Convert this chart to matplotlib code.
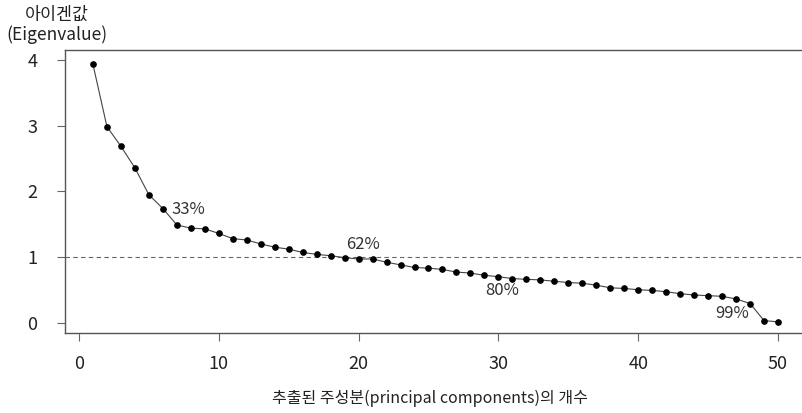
import matplotlib
matplotlib.use("Agg")
import matplotlib.pyplot as plt
import numpy as np

plt.rcParams['font.family'] = ['Noto Sans CJK KR', 'DejaVu Sans']
plt.rcParams['font.weight'] = 'light'

# eigenvalue per extracted component (scree plot)
components = list(range(1, 51))
eigenvalues = [3.94, 2.99, 2.69, 2.36, 1.95, 1.74, 1.49, 1.44, 1.43, 1.36,
               1.28, 1.26, 1.20, 1.15, 1.12, 1.07, 1.04, 1.02, 0.99, 0.97,
               0.97, 0.92, 0.88, 0.84, 0.83, 0.81, 0.77, 0.755, 0.72, 0.70,
               0.67, 0.66, 0.65, 0.63, 0.61, 0.60, 0.57, 0.53, 0.52, 0.50,
               0.49, 0.47, 0.44, 0.42, 0.41, 0.40, 0.36, 0.29, 0.03, 0.01]

# cumulative variance notes: (text, x, y, alignment)
notes = [("33%", 6.63, 1.72, "left"),
         ("62%", 20.34, 1.19, "center"),
         ("80%", 30.24, 0.49, "center"),
         ("99%", 46.69, 0.14, "center")]

W, H = 802, 413
fig = plt.figure(figsize=(W / 100, H / 100), dpi=100)
# axes box in pixels: left 65, top 50, bottom 333, right past the edge
ax = fig.add_axes([65 / W, 1 - 333 / H, (805 - 65) / W, (333 - 50) / H])

ax.axhline(1, color='#666666', lw=0.8, ls=(0, (4, 3)), zorder=1)
ax.plot(components, eigenvalues, color='#444444', lw=0.8,
        marker='o', markersize=3.8, markerfacecolor='black',
        markeredgecolor='black', zorder=3)

for txt, x, y, ha in notes:
    ax.text(x, y, txt, ha=ha, va='center', fontsize=12, color='#333333')

ax.set_xlim(-1.0, (805 - 79) / 13.98)
ax.set_ylim(-0.16, 4.16)
ax.set_xticks([0, 10, 20, 30, 40, 50])
ax.set_yticks([0, 1, 2, 3, 4])

ax.spines['right'].set_visible(False)
for s in ['left', 'top', 'bottom']:
    ax.spines[s].set_color('#555555')
    ax.spines[s].set_linewidth(1.0)

ax.tick_params(axis='both', direction='out', length=6, width=0.8,
               color='#666666', labelcolor='#222222', labelsize=13)
ax.tick_params(axis='y', pad=14)
ax.tick_params(axis='x', pad=10)

fig.text(57 / W, 1 - 15 / H, "아이겐값", ha='center', va='center',
         fontsize=12.5, color='#222222')
fig.text(57 / W, 1 - 35 / H, "(Eigenvalue)", ha='center', va='center',
         fontsize=12.5, color='#222222')
fig.text(430 / W, 1 - 398 / H, "추출된 주성분(principal components)의 개수",
         ha='center', va='center', fontsize=11.5, color='#222222')

fig.savefig("out.png", dpi=100)
